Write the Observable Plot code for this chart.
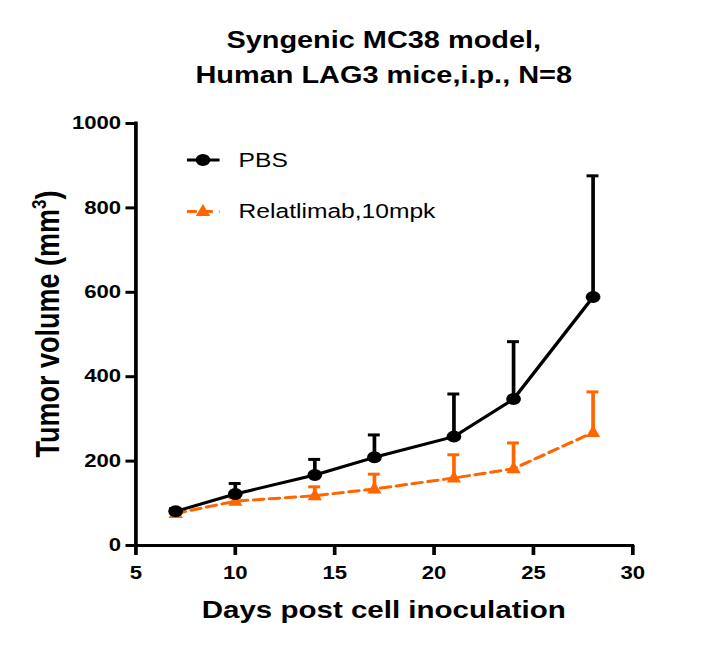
<!DOCTYPE html>
<html>
<head>
<meta charset="utf-8">
<script src="https://cdn.jsdelivr.net/npm/d3@7"></script>
<script src="https://cdn.jsdelivr.net/npm/@observablehq/plot@0.6"></script>
<style>
  html, body { margin: 0; padding: 0; background: #fff; }
  #chart { width: 706px; height: 651px; overflow: hidden; }
</style>
</head>
<body>
<div id="chart"></div>
<script>
// ---- data ----
const days = [7, 10, 14, 17, 21, 24, 28];
const pbsMean = [81, 122, 167, 209, 258, 347, 589];
const pbsSem = [6, 25, 37, 53, 101, 136, 287];
const relMean = [76, 105, 118, 134, 160, 182, 268];
const relSem = [4, 8, 21, 35, 55, 61, 96];
const seriesNames = ["PBS", "Relatlimab,10mpk"];
const xTicks = [5, 10, 15, 20, 25, 30];
const yTicks = [0, 200, 400, 600, 800, 1000];
const titleLines = ["Syngenic MC38 model,", "Human LAG3 mice,i.p., N=8"];
const xLabel = "Days post cell inoculation";
const yLabel = "Tumor volume (mm";
const yLabelSup = "3";

const ORANGE = "#FF6600";
const FONT = "'Liberation Sans', Arial, Helvetica, sans-serif";

const pbs = days.map((d, i) => ({day: d, mean: pbsMean[i], top: pbsMean[i] + pbsSem[i]}));
const rel = days.map((d, i) => ({day: d, mean: relMean[i], top: relMean[i] + relSem[i]}));

// The reference is horizontally stretched; draw in a narrower space and stretch.
const STRETCH = 1.23;
const W = 706 / STRETCH;
const H = 651;
const mL = 110, mR = W - 514, mT = 123, mB = 106;

const capHalf = 0.3;

// Triangle marker shape (centred on the data point)
const triSym = {
  draw(ctx) {
    ctx.moveTo(0, -7.5);
    ctx.lineTo(5.8, 4.5);
    ctx.lineTo(-5.8, 4.5);
    ctx.closePath();
  }
};

const plot = Plot.plot({
  width: W,
  height: H,
  marginLeft: mL,
  marginRight: mR,
  marginTop: mT,
  marginBottom: mB,
  style: {fontFamily: FONT, background: "#fff", overflow: "visible"},
  x: {domain: [5, 30]},
  y: {domain: [0, 1000]},
  marks: [
    Plot.ruleY([0], {x1: 5, x2: 30, stroke: "#000", strokeWidth: 3, strokeLinecap: "square"}),
    Plot.ruleX([5], {y1: 0, y2: 1000, stroke: "#000", strokeWidth: 3, strokeLinecap: "square"}),
    Plot.axisX({ticks: xTicks, tickSize: 10, tickPadding: 11, strokeWidth: 3, fontSize: 18, fontWeight: "bold", fill: "#000", label: null, tickFormat: d => String(d)}),
    Plot.axisY({ticks: yTicks, tickSize: 8, tickPadding: 4, strokeWidth: 3, fontSize: 18, fontWeight: "bold", fill: "#000", label: null, tickFormat: d => String(d)}),
    // Relatlimab
    Plot.line(rel, {x: "day", y: "mean", stroke: ORANGE, strokeWidth: 3, strokeDasharray: "8,5"}),
    Plot.ruleX(rel, {x: "day", y1: "mean", y2: "top", stroke: ORANGE, strokeWidth: 3}),
    Plot.ruleY(rel, {y: "top", x1: d => d.day - capHalf, x2: d => d.day + capHalf, stroke: ORANGE, strokeWidth: 3}),
    Plot.dot(rel, {x: "day", y: "mean", symbol: triSym, r: 5, fill: ORANGE, stroke: "none"}),
    // PBS
    Plot.line(pbs, {x: "day", y: "mean", stroke: "#000", strokeWidth: 3}),
    Plot.ruleX(pbs, {x: "day", y1: "mean", y2: "top", stroke: "#000", strokeWidth: 3}),
    Plot.ruleY(pbs, {y: "top", x1: d => d.day - capHalf, x2: d => d.day + capHalf, stroke: "#000", strokeWidth: 3}),
    Plot.dot(pbs, {x: "day", y: "mean", r: 6, fill: "#000", stroke: "none"})
  ]
});

const svg = d3.select(plot);
const cx = (mL + (W - mR)) / 2;

// Title
svg.append("g")
  .attr("font-family", FONT).attr("font-weight", "bold").attr("font-size", 23.5)
  .attr("text-anchor", "middle").attr("fill", "#000")
  .selectAll("text").data(titleLines).join("text")
  .attr("x", cx).attr("y", (d, i) => 48 + i * 35).text(d => d);

// X label
svg.append("text")
  .attr("font-family", FONT).attr("font-weight", "bold").attr("font-size", 24)
  .attr("text-anchor", "middle").attr("fill", "#000")
  .attr("x", cx).attr("y", 618).text(xLabel);

// Y label
const yl = svg.append("text")
  .attr("font-family", FONT).attr("font-weight", "bold").attr("font-size", 27)
  .attr("text-anchor", "middle").attr("fill", "#000")
  .attr("transform", "translate(48,324) rotate(-90)");
yl.append("tspan").text(yLabel);
yl.append("tspan").attr("font-size", 17).attr("dy", -11).text(yLabelSup);
yl.append("tspan").attr("dy", 11).text(")");

// Legend
const lg = svg.append("g").attr("font-family", FONT).attr("text-anchor", "start");
const circlePath = d3.symbol(d3.symbolCircle, Math.PI * 36)();
const triPath = d3.path(); triSym.draw(triPath);
const rows = [
  {name: seriesNames[0], y: 160, color: "#000", dash: null, path: circlePath},
  {name: seriesNames[1], y: 211.5, color: ORANGE, dash: "8,5", path: triPath.toString()}
];
rows.forEach(r => {
  lg.append("line").attr("x1", 152).attr("x2", 178.5).attr("y1", r.y).attr("y2", r.y)
    .attr("stroke", r.color).attr("stroke-width", 3).attr("stroke-dasharray", r.dash);
  lg.append("path").attr("d", r.path)
    .attr("transform", `translate(165,${r.y})`).attr("fill", r.color);
  lg.append("text").attr("x", 194).attr("y", r.y + 7).attr("font-size", 20).attr("fill", "#000").text(r.name);
});

plot.setAttribute("width", 706);
plot.setAttribute("height", 651);
plot.setAttribute("viewBox", `0 0 ${W} ${H}`);
plot.setAttribute("preserveAspectRatio", "none");
plot.setAttribute("style", `display:block; width:706px; height:651px; max-width:none; background:#fff; font-family:${FONT}; overflow:visible;`);

document.getElementById("chart").appendChild(plot);
</script>
</body>
</html>
